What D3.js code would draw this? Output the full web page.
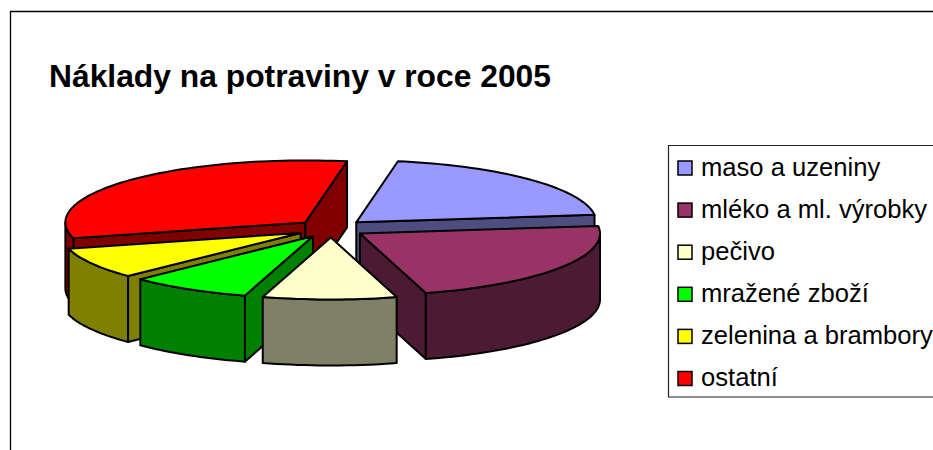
<!DOCTYPE html>
<html>
<head>
<meta charset="utf-8">
<script src="https://cdn.jsdelivr.net/npm/d3@7"></script>
<style>
  html, body { margin: 0; padding: 0; background: #fff; overflow: hidden; }
  svg { display: block; }
</style>
</head>
<body>
<svg></svg>
<script>
//data
const categories = ["maso a uzeniny", "mléko a ml. výrobky", "pečivo", "mražené zboží", "zelenina a brambory", "ostatní"];
const shares = [20.3, 22.5, 9.0, 8.2, 8.1, 31.9];

//colours
const topColors = ["#9999ff", "#993366", "#ffffcc", "#00ff00", "#ffff00", "#ff0000"];
const sideColors = ["#4d4d80", "#4d1a33", "#808066", "#008000", "#808000", "#800000"];

//constants
const width = 933;
const height = 450;
const cx = 331, cy = 228.5;
const rx = 240, ry = 62;
const depth = 66;
const explode = 0.145;
const firstAngle = 10 * Math.PI / 180;
const paintOrder = [5, 0, 1, 4, 3, 2]; //back to front

const svg = d3.select("svg")
    .attr("width", width)
    .attr("height", height);

//frame (right and bottom edge are outside the picture)
svg.append("path")
    .attr("d", "M10.5,450V11.5H933")
    .attr("fill", "none")
    .attr("stroke", "#000")
    .attr("stroke-width", 1.3);

//title
svg.append("text")
    .attr("x", 49)
    .attr("y", 87)
    .style("font-family", "'Liberation Sans', Arial, sans-serif")
    .style("font-size", "31.8px")
    .style("font-weight", "bold")
    .text("Náklady na potraviny v roce 2005");

//scales
const xScale = d3.scaleLinear().domain([-1, 1]).range([cx - rx, cx + rx]);
const yScale = d3.scaleLinear().domain([-1, 1]).range([cy + ry, cy - ry]);
const topColor = d3.scaleOrdinal().domain(categories).range(topColors);
const sideColor = d3.scaleOrdinal().domain(categories).range(sideColors);

const slices = d3.pie()
    .sort(null)
    .startAngle(firstAngle)
    .endAngle(firstAngle + 2 * Math.PI)
    .value(d => d)(shares);

const line = d3.line();

function point(s, r, angle, drop) {
    let mid = (s.startAngle + s.endAngle) / 2;
    return [
        xScale(explode * Math.sin(mid) + r * Math.sin(angle)),
        yScale(explode * Math.cos(mid) + r * Math.cos(angle)) + drop
    ];
}

function arcPoints(s, a, b, drop) {
    let n = Math.max(2, Math.ceil((b - a) / 0.03));
    return d3.range(n + 1).map(i => point(s, 1, a + (b - a) * i / n, drop));
}

function wall(s, angle) {
    return line([
        point(s, 0, angle, 0),
        point(s, 1, angle, 0),
        point(s, 1, angle, depth),
        point(s, 0, angle, depth)
    ]) + "Z";
}

const pie = svg.append("g")
    .attr("stroke", "#000")
    .attr("stroke-width", 2)
    .attr("stroke-linejoin", "round");

paintOrder.forEach(function(i) {
    let s = slices[i];
    let g = pie.append("g");
    let side = sideColor(categories[i]);

    //cut faces that look towards the viewer
    if (Math.sin(s.startAngle) < 0) {
        g.append("path").attr("d", wall(s, s.startAngle)).attr("fill", side);
    }
    if (Math.sin(s.endAngle) > 0) {
        g.append("path").attr("d", wall(s, s.endAngle)).attr("fill", side);
    }

    //outer rim, only the front half of the ellipse
    let a = Math.max(s.startAngle, Math.PI / 2);
    let b = Math.min(s.endAngle, 3 * Math.PI / 2);
    if (a < b) {
        let rim = arcPoints(s, a, b, 0).concat(arcPoints(s, a, b, depth).reverse());
        g.append("path").attr("d", line(rim) + "Z").attr("fill", side);
    }

    //top face
    let top = [point(s, 0, 0, 0)].concat(arcPoints(s, s.startAngle, s.endAngle, 0));
    g.append("path").attr("d", line(top) + "Z").attr("fill", topColor(categories[i]));
});

//legend
svg.append("path")
    .attr("d", "M933,145.5H668.5V397H933")
    .attr("fill", "#fff")
    .attr("stroke", "#222")
    .attr("stroke-width", 1.2);

const rowScale = d3.scalePoint().domain(categories).range([168, 378.5]);

const rows = svg.append("g")
    .selectAll("g")
    .data(categories)
    .join("g")
    .attr("transform", d => "translate(0," + rowScale(d) + ")");

rows.append("rect")
    .attr("x", 678)
    .attr("y", -7)
    .attr("width", 14)
    .attr("height", 14)
    .attr("fill", d => topColor(d))
    .attr("stroke", "#000")
    .attr("stroke-width", 1.5);

rows.append("text")
    .attr("x", 701)
    .attr("y", 7.5)
    .style("font-family", "'Liberation Sans', Arial, sans-serif")
    .style("font-size", "25.6px")
    .text(d => d);
</script>
</body>
</html>
